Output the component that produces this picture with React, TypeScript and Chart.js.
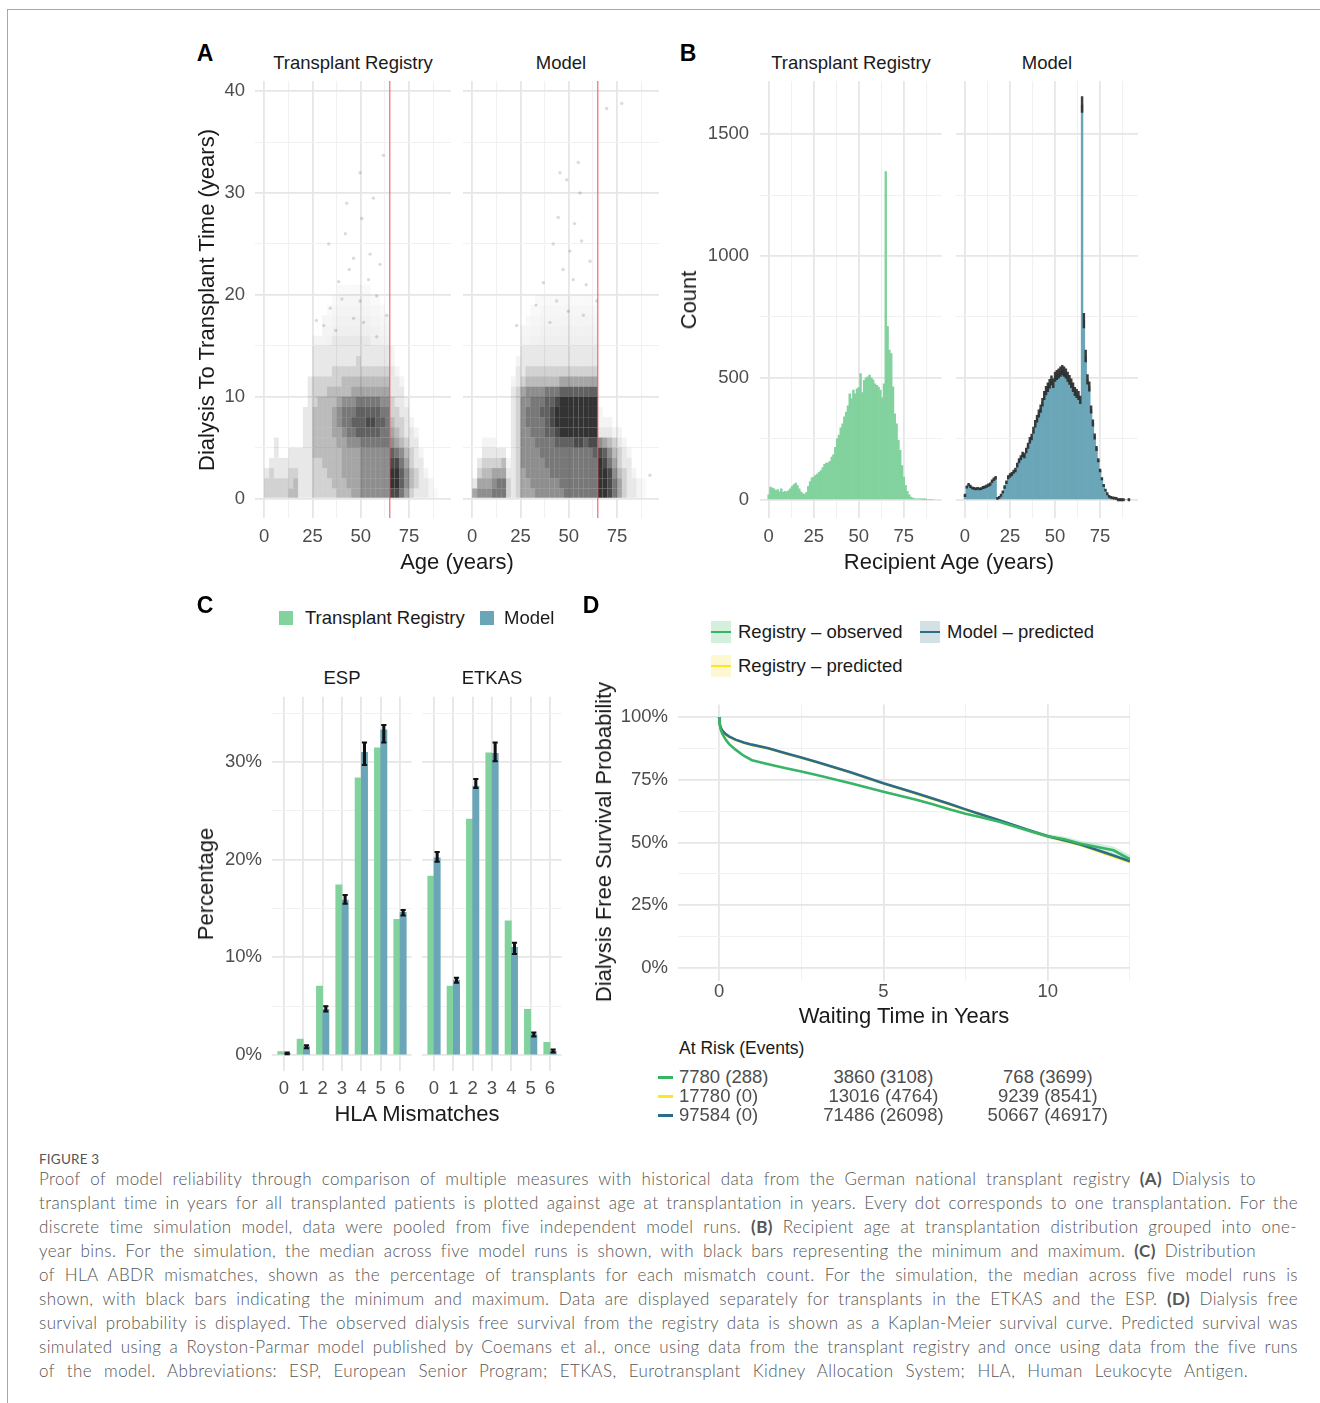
import React, { useEffect, useRef } from "react";
import { Chart, registerables } from "chart.js";

Chart.register(...registerables);

const FONT = "'Liberation Sans', Arial, Helvetica, sans-serif";
const CAPTION_FONT = "Lato, 'Open Sans', sans-serif";

// ---------------- Panel A: density of (age, dialysis-to-transplant time) ----------------
// Each inner list is one 2.5-year age column; entries are darkness levels (0-9) for 1-year time rows from 0 upwards.
const densityAgeBinWidth = 2.5;
const densityTimeBinWidth = 1;
const registryDensity: number[][] = [
  [2, 2, 1],
  [2, 2, 2, 1],
  [2, 2, 1, 1, 1, 1],
  [2, 2, 1, 1],
  [2, 2, 1, 1],
  [3, 2, 2, 1, 1],
  [3, 3, 2, 1, 1],
  [1, 1, 1, 1, 1],
  [1, 1, 1, 1, 1, 1, 1, 1, 1],
  [1, 1, 1, 1, 1, 1, 1, 1, 1, 1, 1, 1],
  [2, 2, 2, 2, 3, 3, 3, 3, 3, 2, 2, 2, 1, 1, 1, 0.5],
  [2, 2, 2, 2, 3, 3, 3, 3, 3, 3, 2, 2, 1, 1, 1, 0.5],
  [2, 2, 2, 3, 3, 3, 3, 3, 3, 3, 2, 2, 1, 1, 1, 0.5, 0.5, 0.4],
  [2, 2, 3, 3, 3, 3, 3, 3, 3, 3, 3, 2, 1, 1, 1, 0.6, 0.5, 0.4, 0.3],
  [2, 3, 3, 3, 3, 3, 4, 4, 4, 3, 3, 2, 2, 1, 1, 1, 0.6, 0.5, 0.4, 0.3],
  [3, 3, 3, 3, 3, 4, 4, 5, 5, 4, 3, 2, 2, 1, 1, 1, 0.7, 0.6, 0.5, 0.4, 0.3],
  [3, 3, 4, 4, 4, 4, 5, 6, 6, 5, 3, 3, 2, 1, 1, 1, 0.7, 0.6, 0.5, 0.4, 0.3],
  [3, 4, 4, 4, 4, 5, 6, 6, 6, 5, 3, 3, 2, 1, 1, 1, 0.7, 0.6, 0.5, 0.4, 0.3],
  [4, 4, 4, 4, 4, 5, 6, 7, 6, 5, 4, 3, 2, 1, 1, 1, 0.7, 0.6, 0.5, 0.4, 0.3],
  [4, 4, 4, 4, 4, 5, 7, 7, 7, 6, 4, 3, 2, 2, 1, 1, 0.7, 0.6, 0.5, 0.4, 0.3],
  [5, 5, 5, 5, 5, 6, 7, 7, 7, 6, 4, 3, 2, 1, 1, 1, 0.7, 0.6, 0.5, 0.4, 0.3],
  [5, 5, 5, 5, 5, 6, 7, 8, 7, 6, 4, 3, 2, 1, 1, 1, 0.7, 0.6, 0.5, 0.4, 0.3],
  [5, 5, 5, 5, 5, 6, 7, 8, 7, 6, 4, 3, 2, 1, 1, 0.7, 0.6, 0.5, 0.4, 0.3],
  [5, 5, 5, 5, 5, 6, 7, 7, 7, 6, 4, 3, 2, 1, 1, 0.7, 0.6, 0.5, 0.4, 0.3],
  [5, 5, 5, 5, 5, 6, 6, 7, 6, 5, 4, 3, 2, 1, 1, 0.6, 0.5, 0.4, 0.3],
  [5, 5, 5, 5, 5, 6, 6, 6, 6, 5, 4, 3, 2, 1, 1, 0.6, 0.5, 0.4],
  [8, 9, 9, 8, 7, 5, 4, 3, 2, 2, 1, 1, 1, 0.5, 0.5],
  [8, 9, 9, 8, 6, 4, 3, 2, 2, 1, 1, 1, 0.5],
  [6, 7, 7, 6, 5, 3, 2, 2, 1, 1, 1, 0.5],
  [4, 5, 5, 4, 3, 2, 1, 1, 1, 0.5],
  [2, 3, 3, 2, 2, 1, 1, 0.5],
  [1, 2, 2, 1, 1, 1, 0.5],
  [1, 1, 1, 1, 0.5],
  [1, 1, 0.5],
  [0.5, 0.5],
  [0.3],
];
const modelDensity: number[][] = [
  [4, 1],
  [5, 4, 2, 1],
  [5, 4, 3, 2, 1, 0.5],
  [5, 4, 3, 2, 1, 0.5],
  [6, 5, 4, 2, 1, 0.5],
  [6, 6, 4, 2, 1],
  [6, 6, 4, 3, 1],
  [2, 2, 1, 0.5],
  [1, 1, 1, 1, 1, 1, 1, 1, 1, 1, 1, 0.5],
  [2, 2, 2, 2, 2, 2, 2, 2, 2, 2, 2, 1, 1, 0.5],
  [4, 4, 4, 5, 5, 5, 5, 5, 5, 5, 4, 2, 1, 1, 1, 0.5, 0.4],
  [4, 4, 5, 5, 5, 5, 5, 6, 6, 5, 5, 3, 2, 1, 1, 0.5, 0.4, 0.3],
  [4, 5, 5, 5, 5, 5, 6, 6, 6, 6, 5, 3, 2, 1, 1, 0.6, 0.5, 0.4, 0.3],
  [5, 5, 5, 5, 5, 6, 6, 6, 6, 6, 5, 3, 2, 1, 1, 0.6, 0.5, 0.4, 0.3, 0.3],
  [5, 5, 5, 5, 6, 6, 6, 6, 7, 6, 5, 3, 2, 1, 1, 0.7, 0.6, 0.5, 0.4, 0.3],
  [5, 5, 5, 6, 6, 6, 7, 7, 7, 7, 6, 3, 2, 1, 1, 0.7, 0.6, 0.5, 0.4, 0.3],
  [5, 5, 6, 6, 6, 6, 7, 8, 8, 7, 6, 3, 2, 1, 1, 0.7, 0.6, 0.5, 0.4, 0.3],
  [5, 5, 6, 6, 6, 7, 8, 9, 9, 8, 6, 3, 2, 1, 1, 0.7, 0.6, 0.5, 0.4, 0.3],
  [5, 6, 6, 6, 6, 7, 9, 9, 9, 9, 7, 4, 2, 1, 1, 0.7, 0.6, 0.5, 0.4, 0.3],
  [6, 6, 6, 6, 6, 7, 9, 9, 9, 9, 7, 4, 2, 1, 1, 0.7, 0.6, 0.5, 0.4, 0.3],
  [6, 6, 6, 6, 6, 7, 9, 9, 9, 9, 7, 4, 2, 1, 1, 0.7, 0.6, 0.5, 0.4, 0.3],
  [6, 6, 6, 6, 6, 8, 9, 9, 9, 9, 7, 4, 2, 1, 1, 0.7, 0.6, 0.5, 0.4, 0.3],
  [6, 6, 6, 6, 6, 8, 9, 9, 9, 9, 7, 4, 2, 1, 1, 0.7, 0.6, 0.5, 0.4, 0.3],
  [6, 6, 6, 6, 6, 7, 9, 9, 9, 9, 7, 4, 2, 1, 1, 0.7, 0.6, 0.5, 0.4, 0.3],
  [6, 6, 6, 6, 6, 8, 9, 9, 9, 9, 7, 4, 2, 1, 1, 0.7, 0.6, 0.5, 0.4, 0.3],
  [6, 6, 6, 6, 7, 8, 9, 9, 9, 9, 7, 4, 2, 1, 1, 0.6, 0.5, 0.4, 0.3],
  [9, 9, 9, 9, 8, 5, 1, 0.5, 0.5],
  [9, 9, 9, 8, 7, 4, 1, 0.5],
  [8, 8, 8, 6, 5, 3, 1, 0.5],
  [6, 6, 5, 4, 3, 2, 0.5],
  [4, 4, 3, 2, 2, 1, 0.5],
  [2, 2, 2, 1, 1, 0.5],
  [1, 1, 1, 1, 0.5],
  [1, 1, 0.5],
  [0.5, 0.5],
  [0.3, 0.3],
];
// isolated transplantations with long dialysis time: [age, years]
const registryOutliers: number[][] = [
  [61.7, 33.7], [49.6, 32], [42.7, 29], [56.5, 29.5], [50.5, 27.5], [54.8, 24], [46.2, 23.6], [38.5, 21.3],
  [34.2, 18.7], [40.2, 19.6], [49.6, 19.4], [58.2, 19.9], [46.2, 17.7], [51.4, 17.3], [30.8, 17], [63.4, 18],
  [58.2, 15.9], [33.4, 25], [54, 21.5], [44, 22.5], [60, 23], [37, 16.5], [42, 26], [27, 17.5],
];
const modelOutliers: number[][] = [
  [54.9, 33], [45.4, 32], [48.9, 31.3], [44.5, 27.6], [55.8, 30], [69.6, 38.3], [77.4, 38.8], [50.6, 24.3],
  [56.6, 25.3], [41.9, 25], [61, 23.3], [52.3, 21.5], [36.8, 21.2], [43.7, 19.4], [57.5, 18], [40.2, 17.3],
  [49.7, 18.4], [64.4, 19.4], [23, 17], [92, 2.3], [47, 22.5], [59, 21], [33, 19], [53, 27],
];
const espAgeThreshold = 65;

// ---------------- Panel B: recipient age histogram (1-year bins) ----------------
const recipientAges: number[] = Array.from({ length: 92 }, (_, i) => i);
const registryCounts: number[] = [
  20, 52, 48, 45, 38, 42, 32, 45, 30, 35,
  32, 38, 45, 55, 62, 68, 58, 45, 32, 25,
  22, 30, 55, 75, 90, 93, 100, 105, 112, 120,
  132, 145, 150, 152, 158, 175, 185, 215, 250, 265,
  295, 312, 340, 360, 385, 435, 415, 450, 435, 455,
  460, 518, 440, 490, 500, 505, 512, 500, 492, 476,
  470, 462, 450, 418, 476, 1347, 712, 614, 600, 463,
  353, 312, 244, 203, 140, 93, 59, 35, 20, 11,
  7, 5, 4, 3, 2, 2, 1, 1, 0, 0,
  0, 0,
];
const modelCounts: number[] = [
  18, 52, 62, 55, 48, 46, 44, 46, 44, 45,
  50, 52, 56, 60, 64, 76, 84, 90, 3, 8,
  18, 32, 52, 72, 92, 100, 106, 115, 122, 142,
  160, 172, 186, 182, 202, 222, 244, 258, 285, 312,
  332, 354, 374, 400, 428, 448, 462, 476, 490, 478,
  505, 512, 518, 526, 532, 526, 518, 505, 492, 478,
  462, 444, 436, 428, 410, 1620, 735, 590, 494, 465,
  370, 315, 260, 210, 162, 120, 86, 58, 38, 22,
  11, 6, 4, 3, 2, 1, 1, 1, 0, 0,
  0, 1,
];
const modelCountsMin: number[] = [
  13, 47, 57, 50, 44, 42, 40, 42, 40, 41,
  45, 47, 51, 55, 59, 70, 78, 84, 1, 5,
  14, 27, 46, 66, 85, 93, 99, 108, 114, 134,
  151, 163, 176, 172, 192, 211, 232, 246, 272, 298,
  318, 339, 358, 384, 411, 430, 444, 458, 471, 460,
  486, 493, 499, 506, 512, 506, 499, 486, 473, 460,
  444, 427, 419, 411, 394, 1590, 705, 566, 474, 446,
  355, 302, 249, 201, 155, 114, 81, 54, 35, 20,
  9, 5, 3, 2, 1, 0, 0, 0, 0, 0,
  0, 0,
];
const modelCountsMax: number[] = [
  23, 57, 67, 60, 53, 51, 49, 51, 49, 50,
  55, 57, 61, 65, 69, 82, 90, 96, 6, 11,
  22, 37, 58, 78, 99, 107, 113, 122, 130, 150,
  169, 181, 196, 192, 212, 233, 256, 270, 298, 326,
  346, 369, 390, 416, 445, 466, 480, 494, 509, 496,
  524, 531, 537, 546, 552, 546, 537, 524, 511, 496,
  480, 461, 453, 445, 426, 1655, 765, 614, 514, 484,
  385, 328, 271, 219, 169, 126, 91, 62, 41, 24,
  13, 8, 6, 4, 3, 2, 2, 2, 1, 0,
  0, 2,
];

// ---------------- Panel C: HLA mismatches (%) ----------------
const hlaMismatches = [0, 1, 2, 3, 4, 5, 6];
const espRegistry = [0.34, 1.64, 7.06, 17.44, 28.4, 31.47, 13.9];
const espModel = [0.17, 0.85, 4.68, 15.87, 31.0, 33.3, 14.6];
const espModelMin = [0.08, 0.7, 4.45, 15.5, 29.7, 32.0, 14.3];
const espModelMax = [0.25, 1.0, 5.0, 16.4, 32.0, 33.8, 14.85];
const etkasRegistry = [18.33, 7.06, 24.16, 30.95, 13.75, 4.68, 1.3];
const etkasModel = [20.2, 7.68, 27.54, 30.9, 11.02, 2.1, 0.4];
const etkasModelMin = [19.8, 7.4, 27.34, 30.1, 10.34, 1.9, 0.25];
const etkasModelMax = [20.8, 7.9, 28.26, 32.0, 11.5, 2.3, 0.55];

// ---------------- Panel D: dialysis free survival (%) ----------------
const survivalYears = [0, 0.02, 0.05, 0.1, 0.2, 0.3, 0.5, 0.75, 1, 1.5, 2, 2.5, 3, 3.5, 4, 4.5, 5, 5.5, 6, 6.5, 7, 7.5, 8, 8.5, 9, 9.5, 10, 10.5, 11, 11.5, 12, 12.5];
const registryObserved = [100, 97, 95, 93.3, 91, 89.3, 87, 84.6, 82.8, 81.2, 79.7, 78.3, 76.8, 75.2, 73.6, 71.9, 70.2, 68.6, 67.0, 65.2, 63.3, 61.5, 60.0, 58.4, 56.4, 54.4, 52.5, 51.3, 49.5, 48.2, 46.9, 43.3];
const registryObservedLower = [100, 96.8, 94.8, 93.1, 90.8, 89.1, 86.8, 84.4, 82.6, 81.0, 79.5, 78.1, 76.6, 75.0, 73.4, 71.7, 70.0, 68.3, 66.7, 64.9, 62.9, 61.1, 59.5, 57.8, 55.7, 53.6, 51.6, 50.2, 48.3, 46.8, 45.4, 41.6];
const registryObservedUpper = [100, 97.2, 95.2, 93.5, 91.2, 89.5, 87.2, 84.8, 83.0, 81.4, 79.9, 78.5, 77.0, 75.4, 73.8, 72.1, 70.4, 68.9, 67.3, 65.5, 63.7, 61.9, 60.5, 59.0, 57.1, 55.2, 53.4, 52.4, 50.7, 49.6, 48.4, 45.0];
const modelPredicted = [100, 97.3, 95.8, 94.6, 93.2, 92.3, 91.0, 89.9, 89.0, 87.6, 85.7, 83.9, 82.0, 80.0, 78.0, 75.8, 73.6, 71.6, 69.6, 67.5, 65.4, 63.2, 61.1, 59.0, 56.8, 54.6, 52.5, 50.9, 49.2, 47.0, 44.8, 42.5];
const registryPredicted = [100, 97.2, 95.7, 94.5, 93.0, 92.1, 90.8, 89.7, 88.8, 87.4, 85.5, 83.7, 81.8, 79.8, 77.8, 75.6, 73.4, 71.4, 69.4, 67.3, 65.2, 63.0, 60.9, 58.8, 56.6, 54.4, 52.3, 50.6, 48.9, 46.6, 44.3, 42.1];
const riskTimes = [0, 5, 10];
const riskRegistryObserved = ["7780 (288)", "3860 (3108)", "768 (3699)"];
const riskRegistryPredicted = ["17780 (0)", "13016 (4764)", "9239 (8541)"];
const riskModelPredicted = ["97584 (0)", "71486 (26098)", "50667 (46917)"];

// ---------------- caption ----------------
const captionLines = [
  "Proof of model reliability through comparison of multiple measures with historical data from the German national transplant registry (A) Dialysis to",
  "transplant time in years for all transplanted patients is plotted against age at transplantation in years. Every dot corresponds to one transplantation. For the",
  "discrete time simulation model, data were pooled from five independent model runs. (B) Recipient age at transplantation distribution grouped into one-",
  "year bins. For the simulation, the median across five model runs is shown, with black bars representing the minimum and maximum. (C) Distribution",
  "of HLA ABDR mismatches, shown as the percentage of transplants for each mismatch count. For the simulation, the median across five model runs is",
  "shown, with black bars indicating the minimum and maximum. Data are displayed separately for transplants in the ETKAS and the ESP. (D) Dialysis free",
  "survival probability is displayed. The observed dialysis free survival from the registry data is shown as a Kaplan-Meier survival curve. Predicted survival was",
  "simulated using a Royston-Parmar model published by Coemans et al., once using data from the transplant registry and once using data from the five runs",
  "of the model. Abbreviations: ESP, European Senior Program; ETKAS, Eurotransplant Kidney Allocation System; HLA, Human Leukocyte Antigen.",
];
const captionRight = [1256, 1298, 1297, 1256, 1298, 1298, 1298, 1298, 1248];

// ---------------- colours ----------------
const GREEN_FILL = "#82d29e";
const TEAL_FILL = "#6ba6b8";
const GREEN_LINE = "#38b467";
const TEAL_LINE = "#2b6c88";
const YELLOW_LINE = "#fde725";

// ---------------- helpers ----------------
type Area = { l: number; r: number; t: number; b: number };

function axis(dir: "x" | "y", s: any) {
  const isMajor = (v: number) => s.major.some((m: number) => Math.abs(m - v) < 1e-6);
  return {
    type: "linear",
    min: s.min,
    max: s.max,
    offset: false,
    afterBuildTicks: (sc: any) => {
      sc.ticks = s.ticks.map((v: number) => ({ value: v }));
    },
    afterFit: (sc: any) => {
      if (dir === "x") {
        sc.height = s.size;
        sc.paddingLeft = 0;
        sc.paddingRight = 0;
      } else {
        sc.width = s.size;
        sc.paddingTop = 0;
        sc.paddingBottom = 0;
      }
    },
    grid: {
      offset: false,
      drawTicks: false,
      color: (c: any) => (c.tick && isMajor(c.tick.value) ? "#e6e6e6" : "#f1f1f1"),
      lineWidth: (c: any) => (c.tick && isMajor(c.tick.value) ? 1.8 : 1.1),
    },
    border: { display: false },
    ticks: {
      display: s.show !== false,
      padding: s.padding ?? 8,
      autoSkip: false,
      maxRotation: 0,
      minRotation: 0,
      color: "#4d4d4d",
      font: { size: 18.5, family: FONT },
      callback: (v: any) => (isMajor(Number(v)) ? (s.fmt ? s.fmt(Number(v)) : String(v)) : ""),
    },
  };
}

function frameFor(area: Area, yW: number, xH: number, pad = 6) {
  const cl = Math.floor(area.l - yW - pad);
  const ct = Math.floor(area.t - pad);
  const cr = Math.ceil(area.r + pad);
  const cb = Math.ceil(area.b + xH + pad);
  return {
    left: cl,
    top: ct,
    width: cr - cl,
    height: cb - ct,
    padding: { left: area.l - yW - cl, top: area.t - ct, right: cr - area.r, bottom: cb - area.b - xH },
  };
}

function ChartCanvas({ area, yW, xH, build }: { area: Area; yW: number; xH: number; build: () => any }) {
  const ref = useRef<HTMLCanvasElement | null>(null);
  const f = frameFor(area, yW, xH);
  useEffect(() => {
    const cfg = build();
    cfg.options = {
      ...(cfg.options || {}),
      responsive: false,
      maintainAspectRatio: false,
      animation: false,
      devicePixelRatio: 1,
      events: [],
      layout: { padding: f.padding },
      plugins: { legend: { display: false }, tooltip: { enabled: false } },
    };
    const chart = new Chart(ref.current as HTMLCanvasElement, cfg);
    return () => chart.destroy();
  }, []);
  return (
    <canvas
      ref={ref}
      width={f.width}
      height={f.height}
      style={{ position: "absolute", left: f.left, top: f.top, width: f.width, height: f.height }}
    />
  );
}

function Txt(props: {
  x: number; y: number; children: any; size?: number; color?: string; weight?: number;
  anchor?: "start" | "middle" | "end"; rotate?: boolean; family?: string;
}) {
  const { x, y, children, size = 18.5, color = "#1a1a1a", weight = 400, anchor = "middle", rotate = false, family = FONT } = props;
  const tx = anchor === "middle" ? "-50%" : anchor === "end" ? "-100%" : "0";
  return (
    <div
      style={{
        position: "absolute", left: x, top: y,
        transform: `translate(${tx}, -50%)${rotate ? " rotate(-90deg)" : ""}`,
        whiteSpace: "nowrap", fontSize: size, color, fontWeight: weight, fontFamily: family, lineHeight: 1,
      }}
    >
      {children}
    </div>
  );
}

// ---------------- panel A ----------------
const A_LEFT: Area = { l: 255, r: 451, t: 81, b: 518 };
const A_RIGHT: Area = { l: 463, r: 659, t: 81, b: 518 };
const A_XS = { min: -4.8, max: 96.7, ticks: [0, 12.5, 25, 37.5, 50, 62.5, 75, 87.5], major: [0, 25, 50, 75], size: 40, padding: 8 };
const A_YS = { min: -1.9, max: 41, ticks: [0, 5, 10, 15, 20, 25, 30, 35, 40], major: [0, 10, 20, 30, 40], padding: 10 };

const shade = (v: number) => `rgba(22,22,22,${Math.min(0.88, 0.097 * Math.max(v, 0)).toFixed(3)})`;

function densityCells(cols: number[][]) {
  const pts: any[] = [];
  cols.forEach((col, c) => {
    col.forEach((lvl, t) => {
      if (lvl > 0) {
        pts.push({
          x: (c + 0.5) * densityAgeBinWidth,
          y: [t * densityTimeBinWidth, (t + 1) * densityTimeBinWidth],
          v: lvl,
        });
      }
    });
  });
  return pts;
}

function densityChart(cols: number[][], outliers: number[][], showY: boolean) {
  return () => ({
    type: "bar",
    data: {
      datasets: [
        {
          type: "line",
          data: [{ x: espAgeThreshold, y: A_YS.min }, { x: espAgeThreshold, y: A_YS.max }],
          borderColor: "rgba(238,80,80,0.85)",
          borderWidth: 1.2,
          pointRadius: 0,
          order: 0,
        },
        {
          type: "scatter",
          data: outliers.map(([x, y]) => ({ x, y })),
          pointRadius: 1.7,
          backgroundColor: "rgba(0,0,0,0.14)",
          borderWidth: 0,
          order: 1,
        },
        {
          type: "bar",
          data: densityCells(cols),
          backgroundColor: (c: any) => shade(c.raw ? c.raw.v : 0),
          borderWidth: 0,
          barPercentage: 1,
          categoryPercentage: 1,
          grouped: false,
          inflateAmount: 0,
          order: 2,
        },
      ],
    },
    options: {
      scales: {
        x: axis("x", A_XS),
        y: axis("y", { ...A_YS, show: showY, size: showY ? 50 : 0 }),
      },
    },
  });
}

// ---------------- panel B ----------------
const B_LEFT: Area = { l: 759.5, r: 941.8, t: 81, b: 518 };
const B_RIGHT: Area = { l: 955.8, r: 1138.1, t: 81, b: 518 };
const B_XS = { min: -5.1, max: 96.1, ticks: [0, 12.5, 25, 37.5, 50, 62.5, 75, 87.5], major: [0, 25, 50, 75], size: 40, padding: 8 };
const B_YS = { min: -75, max: 1719, ticks: [0, 250, 500, 750, 1000, 1250, 1500], major: [0, 500, 1000, 1500], padding: 10.5 };

function histChart(which: "registry" | "model") {
  return () => {
    const datasets: any[] = [];
    if (which === "registry") {
      datasets.push({
        type: "bar",
        data: recipientAges.map((a, i) => ({ x: a, y: registryCounts[i] })),
        backgroundColor: GREEN_FILL,
        borderWidth: 0,
        barPercentage: 1,
        categoryPercentage: 1,
        grouped: false,
        order: 1,
      });
    } else {
      datasets.push({
        type: "bar",
        data: recipientAges
          .map((a, i) => ({ x: a, y: [modelCountsMin[i], modelCountsMax[i]] }))
          .filter((d) => d.y[1] > 0),
        backgroundColor: "rgba(45,45,45,0.92)",
        borderWidth: 0,
        barPercentage: 1,
        categoryPercentage: 1,
        grouped: false,
        minBarLength: 2.2,
        order: 0,
      });
      datasets.push({
        type: "bar",
        data: recipientAges.map((a, i) => ({ x: a, y: modelCounts[i] })),
        backgroundColor: TEAL_FILL,
        borderWidth: 0,
        barPercentage: 1,
        categoryPercentage: 1,
        grouped: false,
        order: 1,
      });
    }
    return {
      type: "bar",
      data: { datasets },
      options: {
        scales: {
          x: axis("x", B_XS),
          y: axis("y", { ...B_YS, show: which === "registry", size: which === "registry" ? 60 : 0 }),
        },
      },
    };
  };
}

// ---------------- panel C ----------------
const C_ESP: Area = { l: 272.4, r: 411.6, t: 696.7, b: 1070.6 };
const C_ETKAS: Area = { l: 422.4, r: 561.6, t: 696.7, b: 1070.6 };
const C_XS = { min: -0.6, max: 6.6, ticks: [0, 1, 2, 3, 4, 5, 6], major: [0, 1, 2, 3, 4, 5, 6], size: 40, padding: 7.3 };
const C_YS = { min: -1.6, max: 36.7, ticks: [0, 5, 10, 15, 20, 25, 30, 35], major: [0, 10, 20, 30], padding: 10.4, fmt: (v: number) => `${v}%` };
const dodge = 0.1625;

function hlaChart(reg: number[], mod: number[], lo: number[], hi: number[], showY: boolean) {
  return () => ({
    type: "bar",
    data: {
      datasets: [
        {
          type: "scatter",
          data: hlaMismatches.flatMap((k, i) => [{ x: k + dodge, y: lo[i] }, { x: k + dodge, y: hi[i] }]),
          pointStyle: "line",
          pointRadius: 2.6,
          borderColor: "#111",
          borderWidth: 2,
          order: 0,
        },
        {
          type: "bar",
          data: hlaMismatches.map((k, i) => ({ x: k + dodge, y: [lo[i], hi[i]] })),
          backgroundColor: "#111",
          barThickness: 2.4,
          minBarLength: 1,
          grouped: false,
          order: 1,
        },
        {
          type: "bar",
          data: hlaMismatches.map((k, i) => ({ x: k + dodge, y: mod[i] })),
          backgroundColor: TEAL_FILL,
          barPercentage: 1,
          categoryPercentage: 1,
          grouped: false,
          order: 2,
        },
        {
          type: "bar",
          data: hlaMismatches.map((k, i) => ({ x: k - dodge, y: reg[i] })),
          backgroundColor: GREEN_FILL,
          barPercentage: 1,
          categoryPercentage: 1,
          grouped: false,
          order: 3,
        },
      ],
    },
    options: {
      scales: {
        x: axis("x", C_XS),
        y: axis("y", { ...C_YS, show: showY, size: showY ? 60 : 0 }),
      },
    },
  });
}

// ---------------- panel D ----------------
const D_AREA: Area = { l: 678, r: 1130, t: 704.5, b: 980.5 };
const D_XS = { min: -1.25, max: 12.5, ticks: [0, 2.5, 5, 7.5, 10, 12.5], major: [0, 5, 10], size: 30, padding: 0 };
const D_YS = { min: -5, max: 105, ticks: [0, 12.5, 25, 37.5, 50, 62.5, 75, 87.5, 100], major: [0, 25, 50, 75, 100], padding: 10, size: 65, fmt: (v: number) => `${v}%` };

function survivalChart() {
  const pts = (arr: number[]) => survivalYears.map((t, i) => ({ x: t, y: arr[i] }));
  return {
    type: "line",
    data: {
      datasets: [
        { data: pts(registryObserved), borderColor: GREEN_LINE, borderWidth: 2.6, pointRadius: 0, tension: 0, order: 0 },
        { data: pts(modelPredicted), borderColor: TEAL_LINE, borderWidth: 2.6, pointRadius: 0, tension: 0, order: 1 },
        { data: pts(registryPredicted), borderColor: YELLOW_LINE, borderWidth: 2.2, pointRadius: 0, tension: 0, order: 2 },
        { data: pts(registryObservedLower), borderWidth: 0, borderColor: "rgba(0,0,0,0)", pointRadius: 0, fill: false, order: 4 },
        { data: pts(registryObservedUpper), borderWidth: 0, borderColor: "rgba(0,0,0,0)", pointRadius: 0, fill: "-1", backgroundColor: "rgba(56,180,103,0.22)", order: 3 },
      ],
    },
    options: {
      scales: {
        x: axis("x", D_XS),
        y: axis("y", D_YS),
      },
    },
  };
}

// ---------------- page ----------------
function Caption() {
  const renderLine = (s: string) =>
    s.split(/(\([A-D]\))/).map((part, i) =>
      /^\([A-D]\)$/.test(part) ? (
        <span key={i} style={{ fontWeight: 700 }}>{part}</span>
      ) : (
        <span key={i}>{part}</span>
      )
    );
  return (
    <>
      <div style={{ position: "absolute", left: 39, top: 1150, fontFamily: CAPTION_FONT, fontSize: 13.5, color: "#555", letterSpacing: 0.2, lineHeight: "18px" }}>
        FIGURE 3
      </div>
      {captionLines.map((line, i) => (
        <div
          key={i}
          style={{
            position: "absolute", left: 39, top: 1167 + i * 24, width: captionRight[i] - 39, height: 24,
            lineHeight: "24px", fontSize: 17, letterSpacing: 0.4, fontFamily: CAPTION_FONT, fontWeight: 300, color: "#555",
            whiteSpace: "nowrap", textAlign: "justify", textAlignLast: "justify" as any,
          }}
        >
          {renderLine(line)}
        </div>
      ))}
    </>
  );
}

function LegendKey({ x, y, bg, line }: { x: number; y: number; bg: string; line: string }) {
  return (
    <div style={{ position: "absolute", left: x, top: y - 11, width: 20, height: 22, background: bg }}>
      <div style={{ position: "absolute", left: 0, top: 9.7, width: 20, height: 2.6, background: line }} />
    </div>
  );
}

export default function App() {
  const riskRows = [
    { color: GREEN_LINE, cells: riskRegistryObserved, y: 1077 },
    { color: YELLOW_LINE, cells: riskRegistryPredicted, y: 1096 },
    { color: TEAL_LINE, cells: riskModelPredicted, y: 1115 },
  ];
  const riskX = (t: number) => 719.1 + t * 32.87;
  return (
    <div style={{ position: "absolute", left: 0, top: 0, width: 1320, height: 1403, background: "#fff", overflow: "hidden", fontFamily: FONT }}>
      <div style={{ position: "absolute", left: 7, top: 9, width: 1313, height: 0, borderTop: "1.5px solid #a6a6ae" }} />
      <div style={{ position: "absolute", left: 7, top: 9, width: 0, height: 1394, borderLeft: "1.5px solid #a6a6ae" }} />

      {/* Panel A */}
      <ChartCanvas area={A_LEFT} yW={50} xH={40} build={densityChart(registryDensity, registryOutliers, true)} />
      <ChartCanvas area={A_RIGHT} yW={0} xH={40} build={densityChart(modelDensity, modelOutliers, false)} />
      <Txt x={205} y={53} size={23} weight={700} color="#000">A</Txt>
      <Txt x={353} y={63}>Transplant Registry</Txt>
      <Txt x={561} y={63}>Model</Txt>
      <Txt x={457} y={562} size={22}>Age (years)</Txt>
      <Txt x={207} y={300} size={22} rotate>Dialysis To Transplant Time (years)</Txt>

      {/* Panel B */}
      <ChartCanvas area={B_LEFT} yW={60} xH={40} build={histChart("registry")} />
      <ChartCanvas area={B_RIGHT} yW={0} xH={40} build={histChart("model")} />
      <Txt x={688} y={53} size={23} weight={700} color="#000">B</Txt>
      <Txt x={851} y={63}>Transplant Registry</Txt>
      <Txt x={1047} y={63}>Model</Txt>
      <Txt x={949} y={562} size={22}>Recipient Age (years)</Txt>
      <Txt x={689} y={300} size={22} rotate>Count</Txt>

      {/* Panel C */}
      <ChartCanvas area={C_ESP} yW={60} xH={40} build={hlaChart(espRegistry, espModel, espModelMin, espModelMax, true)} />
      <ChartCanvas area={C_ETKAS} yW={0} xH={40} build={hlaChart(etkasRegistry, etkasModel, etkasModelMin, etkasModelMax, false)} />
      <Txt x={205} y={605} size={23} weight={700} color="#000">C</Txt>
      <div style={{ position: "absolute", left: 279, top: 611, width: 14, height: 14, background: GREEN_FILL }} />
      <Txt x={305} y={618} anchor="start">Transplant Registry</Txt>
      <div style={{ position: "absolute", left: 480, top: 611, width: 14, height: 14, background: TEAL_FILL }} />
      <Txt x={504} y={618} anchor="start">Model</Txt>
      <Txt x={342} y={678}>ESP</Txt>
      <Txt x={492} y={678}>ETKAS</Txt>
      <Txt x={417} y={1114} size={22}>HLA Mismatches</Txt>
      <Txt x={206} y={884} size={22} rotate>Percentage</Txt>

      {/* Panel D */}
      <ChartCanvas area={D_AREA} yW={65} xH={30} build={survivalChart} />
      <Txt x={591} y={605} size={23} weight={700} color="#000">D</Txt>
      <LegendKey x={711} y={632} bg="#d4efdc" line={GREEN_LINE} />
      <Txt x={738} y={632} anchor="start">Registry – observed</Txt>
      <LegendKey x={920} y={632} bg="#d3e1e7" line={TEAL_LINE} />
      <Txt x={947} y={632} anchor="start">Model – predicted</Txt>
      <LegendKey x={711} y={666} bg="#fdf8d2" line={YELLOW_LINE} />
      <Txt x={738} y={666} anchor="start">Registry – predicted</Txt>
      <Txt x={904} y={1016} size={22}>Waiting Time in Years</Txt>
      <Txt x={604} y={842} size={22} rotate>Dialysis Free Survival Probability</Txt>
      <Txt x={679} y={1049} size={17.5} anchor="start">At Risk (Events)</Txt>
      {riskRows.map((row, r) => (
        <React.Fragment key={r}>
          <div style={{ position: "absolute", left: 658, top: row.y - 1.5, width: 15, height: 3, background: row.color }} />
          {row.cells.map((cell, c) =>
            c === 0 ? (
              <Txt key={c} x={679} y={row.y} anchor="start" color="#4d4d4d">{cell}</Txt>
            ) : (
              <Txt key={c} x={riskX(riskTimes[c])} y={row.y} color="#4d4d4d">{cell}</Txt>
            )
          )}
        </React.Fragment>
      ))}

      <Caption />
    </div>
  );
}
